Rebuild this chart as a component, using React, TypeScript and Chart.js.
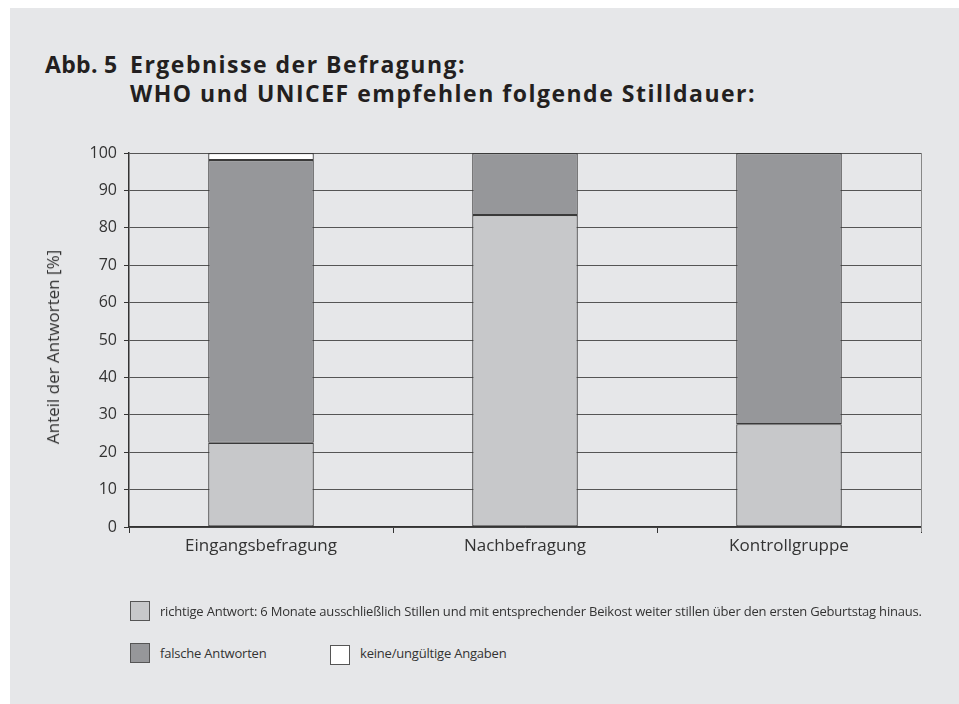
import React, { useEffect, useRef } from "react";
import { Chart, registerables } from "chart.js";

Chart.register(...registerables);

const categories = ["Eingangsbefragung", "Nachbefragung", "Kontrollgruppe"];
const richtig = [22.5, 83.4, 27.5];
const falsch = [75.6, 16.6, 72.5];
const keine = [1.9, 0, 0];
const seriesLabels = [
  "richtige Antwort: 6 Monate ausschließlich Stillen und mit entsprechender Beikost weiter stillen über den ersten Geburtstag hinaus.",
  "falsche Antworten",
  "keine/ungültige Angaben",
];
const yTicks = [0, 10, 20, 30, 40, 50, 60, 70, 80, 90, 100];
const yTitle = "Anteil der Antworten [%]";
const titleLine1a = "Abb. 5";
const titleLine1b = "Ergebnisse der Befragung:";
const titleLine2 = "WHO und UNICEF empfehlen folgende Stilldauer:";

const COLORS = ["#c7c8ca", "#96979a", "#ffffff"];
const FONT = "'Open Sans', sans-serif";

const rightBorder = {
  id: "rightBorder",
  afterDraw(chart: any) {
    const { ctx, chartArea } = chart;
    ctx.save();
    ctx.strokeStyle = "#888";
    ctx.lineWidth = 1;
    ctx.beginPath();
    ctx.moveTo(chartArea.right + 0.5, chartArea.top);
    ctx.lineTo(chartArea.right + 0.5, chartArea.bottom + 5);
    ctx.stroke();
    ctx.restore();
  },
};

export default function App() {
  const ref = useRef<HTMLCanvasElement>(null);
  useEffect(() => {
    if (!ref.current) return;
    const chart = new Chart(ref.current, {
      type: "bar",
      data: {
        labels: categories,
        datasets: [richtig, falsch, keine].map((d, i) => ({
          label: seriesLabels[i],
          data: d,
          backgroundColor: COLORS[i],
          borderColor: "#3a3a3a",
          borderWidth: 1.2,
          borderSkipped: false,
          barPercentage: 0.4,
          categoryPercentage: 1,
        })),
      },
      options: {
        animation: false,
        responsive: false,
        maintainAspectRatio: false,
        layout: { padding: { top: 145, right: 38, bottom: 41, left: 0 } },
        plugins: { legend: { display: false }, tooltip: { enabled: false } },
        scales: {
          x: {
            stacked: true,
            afterFit: (s: any) => {
              s.height = 40;
            },
            grid: {
              offset: true,
              drawOnChartArea: false,
              drawTicks: true,
              tickLength: 6,
              color: "#333",
            },
            border: { color: "#333", width: 1.5 },
            ticks: { color: "#333", font: { family: FONT, size: 17 }, padding: 3 },
          },
          y: {
            stacked: true,
            min: 0,
            max: 100,
            afterFit: (s: any) => {
              s.width = 119;
            },
            afterBuildTicks: (s: any) => {
              s.ticks = yTicks.map((v) => ({ value: v }));
            },
            grid: {
              color: "#555",
              lineWidth: 1,
              drawTicks: true,
              tickLength: 5,
              tickColor: "#333",
            },
            border: { color: "#333", width: 1.5 },
            ticks: { color: "#333", font: { family: FONT, size: 16 }, padding: 7 },
          },
        },
      },
      plugins: [rightBorder],
    });
    return () => chart.destroy();
  }, []);

  const legendText: React.CSSProperties = {
    position: "absolute",
    fontFamily: FONT,
    fontSize: 13,
    letterSpacing: -0.2,
    color: "#333",
    lineHeight: "20px",
    whiteSpace: "nowrap",
  };
  const box = (bg: string): React.CSSProperties => ({
    position: "absolute",
    width: 18,
    height: 18,
    background: bg,
    border: "1px solid #555",
  });

  return (
    <div
      style={{
        position: "fixed",
        left: 10,
        top: 8,
        width: 949,
        height: 696,
        background: "#e6e7e9",
        overflow: "hidden",
      }}
    >
      <div
        style={{
          position: "absolute",
          top: 42,
          left: 35,
          fontFamily: FONT,
          fontWeight: 700,
          fontSize: 23,
          lineHeight: "29px",
          color: "#231f20",
          whiteSpace: "nowrap",
        }}
      >
        <div>
          <span style={{ display: "inline-block", width: 85, letterSpacing: 0.3 }}>{titleLine1a}</span>
          <span style={{ letterSpacing: 1.5 }}>{titleLine1b}</span>
        </div>
        <div style={{ paddingLeft: 85, letterSpacing: 1.5 }}>{titleLine2}</div>
      </div>
      <canvas
        ref={ref}
        width={949}
        height={600}
        style={{ position: "absolute", left: 0, top: 0, width: 949, height: 600 }}
      />
      <div
        style={{
          position: "absolute",
          left: 43,
          top: 339,
          transform: "translate(-50%, -50%) rotate(-90deg)",
          fontFamily: FONT,
          fontSize: 17,
          color: "#333",
          whiteSpace: "nowrap",
          lineHeight: "20px",
        }}
      >
        {yTitle}
      </div>
      <div style={{ ...box(COLORS[0]), left: 120, top: 593 }} />
      <div style={{ ...legendText, left: 150, top: 593 }}>{seriesLabels[0]}</div>
      <div style={{ ...box(COLORS[1]), left: 120, top: 635 }} />
      <div style={{ ...legendText, left: 150, top: 635 }}>{seriesLabels[1]}</div>
      <div style={{ ...box(COLORS[2]), left: 320, top: 637 }} />
      <div style={{ ...legendText, left: 350, top: 635 }}>{seriesLabels[2]}</div>
    </div>
  );
}
